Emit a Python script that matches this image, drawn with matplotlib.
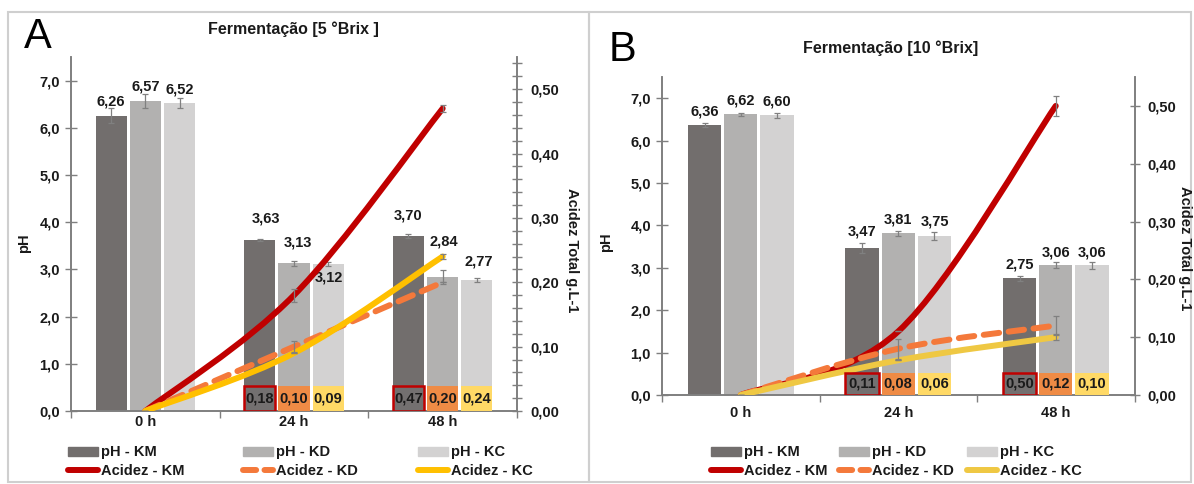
import numpy as np
import matplotlib
matplotlib.use("Agg")
import matplotlib.pyplot as plt
from matplotlib.path import Path
from matplotlib.patches import PathPatch, Rectangle, Patch
from matplotlib.lines import Line2D
from matplotlib.ticker import FuncFormatter, MultipleLocator, FixedLocator

plt.rcParams['font.family'] = ['Liberation Sans Narrow', 'Liberation Sans', 'DejaVu Sans']
plt.rcParams['font.weight'] = 'bold'

W, H = 1194, 484

times = ["0 h", "24 h", "48 h"]
groups = ["KM", "KD", "KC"]

# Fermentação 5 °Brix
ph_a = {"KM": [6.26, 3.63, 3.70], "KD": [6.57, 3.13, 2.84], "KC": [6.52, 3.12, 2.77]}
ph_a_err = {"KM": [0.15, 0.02, 0.04], "KD": [0.14, 0.05, 0.14], "KC": [0.11, 0.04, 0.04]}
acid_a = {"KM": [0.0, 0.18, 0.47], "KD": [0.0, 0.10, 0.20], "KC": [0.0, 0.09, 0.24]}
acid_a_err = {"KM": [0.0, 0.01, 0.005], "KD": [0.0, 0.009, 0.0], "KC": [0.0, 0.0, 0.004]}

# Fermentação 10 °Brix
ph_b = {"KM": [6.36, 3.47, 2.75], "KD": [6.62, 3.81, 3.06], "KC": [6.60, 3.75, 3.06]}
ph_b_err = {"KM": [0.05, 0.12, 0.05], "KD": [0.03, 0.06, 0.07], "KC": [0.06, 0.10, 0.08]}
acid_b = {"KM": [0.0, 0.11, 0.50], "KD": [0.0, 0.08, 0.12], "KC": [0.0, 0.06, 0.10]}
acid_b_err = {"KM": [0.0, 0.0, 0.017], "KD": [0.0, 0.017, 0.017], "KC": [0.0, 0.0, 0.005]}

bar_colors = {"KM": "#726e6d", "KD": "#b2b1b0", "KC": "#d3d2d2"}
box_colors = {"KM": "#737070", "KD": "#ef8b45", "KC": "#ffd966"}
line_a = {"KM": "#c00000", "KD": "#f4793b", "KC": "#ffc000"}
line_b = {"KM": "#c00000", "KD": "#f4793b", "KC": "#efc843"}

# label offsets (px right, px above bar top)
lab_a = {"KM": [(0, 14), (6, 21), (0, 21)], "KD": [(0, 14), (4, 21), (1, 35)],
         "KC": [(0, 14), (1, -14), (2, 19)]}
lab_b = {"KM": [(0, 14), (0, 16), (0, 14)], "KD": [(0, 14), (0, 14), (0, 13)],
         "KC": [(0, 14), (0, 14), (0, 13)]}

PH_MAX, AC_MAX = 7.5, 0.55
BOX_H = 0.53
TXT = "#1a1a1a"
AXC = "#7f7f7f"
FS = 10.5


def fx(x):
    return x / W


def fy(y):
    return 1 - y / H


def comma(v, nd):
    return f"{v:.{nd}f}".replace(".", ",")


def smooth_path(xs, ys):
    # Excel-like smoothed line: Catmull-Rom drawn as cubic Bezier segments
    pts = np.column_stack([xs, ys]).astype(float)
    ext = np.vstack([pts[0], pts, pts[-1]])
    verts = [pts[0]]
    codes = [Path.MOVETO]
    for i in range(len(pts) - 1):
        p0, p1, p2, p3 = ext[i], ext[i + 1], ext[i + 2], ext[i + 3]
        verts += [p1 + (p2 - p0) / 6, p2 - (p3 - p1) / 6, p2]
        codes += [Path.CURVE4] * 3
    return Path(verts, codes)


def draw_panel(px_rect, ph, ph_err, acid, acid_err, labs, lcolors, minor_right, xpad):
    left, top, right, bottom = px_rect
    ax = fig.add_axes([fx(left), fy(bottom), (right - left) / W, (bottom - top) / H])
    ax2 = ax.twinx()
    x = np.arange(len(times))
    offs = {"KM": -0.23, "KD": 0.0, "KC": 0.23}
    for g in groups:
        ax.bar(x + offs[g], ph[g], 0.21, color=bar_colors[g], yerr=ph_err[g],
               error_kw=dict(ecolor="#808080", elinewidth=0.9, capsize=2.5, capthick=0.9),
               zorder=2)
        for i, v in enumerate(ph[g]):
            dx, dy = labs[g][i]
            ax.annotate(comma(v, 2), (x[i] + offs[g], v), xytext=(dx * 0.72, dy * 0.72),
                        textcoords="offset points", ha="center", va="center",
                        fontsize=FS, color=TXT)
    for g in groups:
        ls = (0, (2.6, 1.6)) if g == "KD" else "-"
        patch = PathPatch(smooth_path(x, acid[g]), facecolor="none", edgecolor=lcolors[g],
                          lw=4.3, linestyle=ls, capstyle="round", joinstyle="round", zorder=3)
        ax2.add_patch(patch)
        ax2.errorbar(x, acid[g], yerr=acid_err[g], fmt="none", ecolor="#808080",
                     elinewidth=0.9, capsize=2.5, capthick=0.9, zorder=4)
    box_h = BOX_H * AC_MAX / PH_MAX
    for g in groups:
        for i in range(1, len(times)):
            ec = "#c00000" if g == "KM" else box_colors[g]
            ax2.bar(x[i] + offs[g], box_h, 0.21, color=box_colors[g], edgecolor=ec,
                    lw=1.8 if g == "KM" else 0, zorder=5)
            ax2.text(x[i] + offs[g], box_h / 2, comma(acid[g][i], 2), ha="center",
                     va="center", fontsize=FS, color=TXT, zorder=6)

    ax.set_xlim(-0.5, 2.5)
    ax.set_ylim(0, PH_MAX)
    ax2.set_ylim(0, AC_MAX)
    ax.set_xticks(x)
    ax.set_xticklabels(times)
    ax.xaxis.set_minor_locator(FixedLocator([-0.5, 0.5, 1.5, 2.5]))
    ax.tick_params(axis="x", which="major", length=0, pad=xpad, labelsize=FS, labelcolor=TXT)
    ax.tick_params(axis="x", which="minor", length=5, width=1, color=AXC, direction="out")
    ax.set_yticks(np.arange(0, 7.01, 1.0))
    ax.yaxis.set_major_formatter(FuncFormatter(lambda v, p: comma(v, 1)))
    ax.tick_params(axis="y", direction="inout", length=8, width=1, color=AXC,
                   labelsize=FS, labelcolor=TXT, pad=4)
    ax2.set_yticks(np.arange(0, 0.501, 0.1))
    ax2.yaxis.set_major_formatter(FuncFormatter(lambda v, p: comma(v, 2)))
    if minor_right:
        ax2.yaxis.set_minor_locator(MultipleLocator(0.02))
        ax2.tick_params(axis="y", which="minor", direction="inout", length=7, width=1, color=AXC)
    ax2.tick_params(axis="y", which="major", direction="inout", length=7, width=1, color=AXC,
                    labelsize=FS, labelcolor=TXT, pad=6)
    for a in (ax, ax2):
        a.spines["top"].set_visible(False)
        for s in ("left", "right", "bottom"):
            a.spines[s].set_color(AXC)
            a.spines[s].set_linewidth(1.2)
    ax.patch.set_visible(False)
    return ax, ax2


def add_legend(x0, y_mid, pitch, lcolors):
    for j, g in enumerate(groups):
        ls = (0, (2.2, 1.4)) if g == "KD" else "-"
        handles = [Patch(color=bar_colors[g]),
                   Line2D([], [], color=lcolors[g], lw=4.3, linestyle=ls,
                          solid_capstyle="round", dash_capstyle="round")]
        leg = fig.legend(handles, ["pH - " + g, "Acidez - " + g], loc="center left",
                         bbox_to_anchor=(fx(x0 + j * pitch), fy(y_mid)),
                         bbox_transform=fig.transFigure, frameon=False, fontsize=FS,
                         handlelength=2.05, handleheight=0.6, handletextpad=0.2,
                         labelspacing=0.3, borderpad=0, borderaxespad=0)
        for t in leg.get_texts():
            t.set_color(TXT)


fig = plt.figure(figsize=(W / 100, H / 100), dpi=100)

# panel frames
fig.add_artist(Rectangle((fx(8), fy(482)), (589 - 8) / W, (482 - 12) / H,
                         transform=fig.transFigure, fill=False, ec="#cfcfcf", lw=1.5))
fig.add_artist(Rectangle((fx(589), fy(482)), (1191 - 589) / W, (482 - 12) / H,
                         transform=fig.transFigure, fill=False, ec="#cfcfcf", lw=1.5))

axA, axA2 = draw_panel((71, 57, 517, 411), ph_a, ph_a_err, acid_a, acid_a_err,
                       lab_a, line_a, True, 3)
axB, axB2 = draw_panel((662, 77, 1134.5, 395), ph_b, ph_b_err, acid_b, acid_b_err,
                       lab_b, line_b, False, 8)

add_legend(68, 461.5, 175, line_a)
add_legend(711, 461.5, 128, line_b)

fig.text(fx(293), fy(29), "Fermentação [5 °Brix ]", ha="center", va="center", fontsize=11.5, color=TXT)
fig.text(fx(891), fy(48), "Fermentação [10 °Brix]", ha="center", va="center", fontsize=11.5, color=TXT)
fig.text(fx(38), fy(37), "A", ha="center", va="center", fontsize=30, fontweight="normal",
         family=["Liberation Sans", "DejaVu Sans"], color="black")
fig.text(fx(623), fy(50), "B", ha="center", va="center", fontsize=30, fontweight="normal",
         family=["Liberation Sans", "DejaVu Sans"], color="black")
fig.text(fx(24), fy(243), "pH", rotation=90, ha="center", va="center", fontsize=FS, color=TXT)
fig.text(fx(606), fy(242), "pH", rotation=90, ha="center", va="center", fontsize=FS, color=TXT)
fig.text(fx(572), fy(250), "Acidez Total g.L-1", rotation=-90, ha="center", va="center",
         fontsize=FS, color=TXT)
fig.text(fx(1185), fy(248), "Acidez Total g.L-1", rotation=-90, ha="center", va="center",
         fontsize=FS, color=TXT)

fig.savefig("out.png", dpi=100)
